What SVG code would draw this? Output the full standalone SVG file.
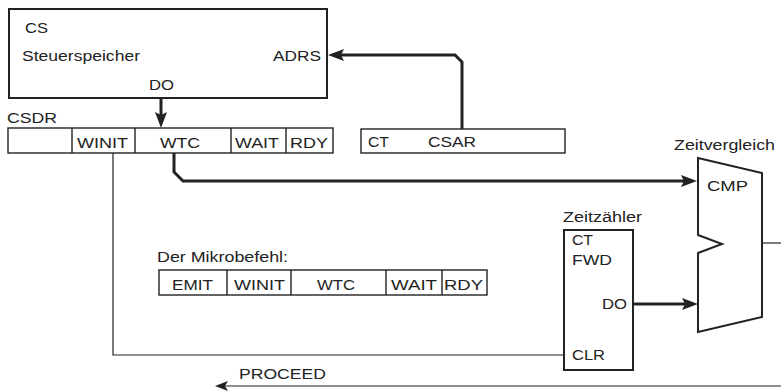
<svg xmlns="http://www.w3.org/2000/svg" width="781" height="391" viewBox="0 0 781 391">
<style>
text{font-family:"Liberation Sans",Arial,sans-serif;font-size:15.5px;fill:#222}
.box{fill:#fff;stroke:#222;stroke-width:2}
.reg{fill:#fff;stroke:#222;stroke-width:1.4}
.thick{fill:none;stroke:#222;stroke-width:3}
.thin{fill:none;stroke:#222;stroke-width:1.2}
</style>
<defs>
<marker id="ah" markerUnits="userSpaceOnUse" markerWidth="16" markerHeight="12" refX="6" refY="6" orient="auto" viewBox="0 0 16 12">
<path d="M0,0 L16,6 L0,12 L3,6 z" fill="#222"/>
</marker>
<marker id="ahs" markerUnits="userSpaceOnUse" markerWidth="13" markerHeight="10" refX="5" refY="5" orient="auto" viewBox="0 0 13 10">
<path d="M0,0 L13,5 L0,10 L3,5 z" fill="#222"/>
</marker>
</defs>

<g id="connectors">
<path class="thick" d="M161,98 V118" marker-end="url(#ah)"/>
<path class="thick" d="M462,129 V62 L455,55 H338" marker-end="url(#ah)"/>
<path class="thick" d="M174,153 V172 L183,181 H687" marker-end="url(#ah)"/>
<path class="thick" d="M633,304 H688" marker-end="url(#ah)"/>
<path class="thin" d="M113,153 V355 H564"/>
<path class="thin" d="M781,386 H223" marker-end="url(#ahs)"/>
<path class="thin" d="M762,243 H781"/>
</g>

<g id="cs">
<rect class="box" x="9" y="9" width="318" height="89"/>
<text x="25" y="33" textLength="23" lengthAdjust="spacingAndGlyphs">CS</text>
<text x="22" y="61" textLength="118" lengthAdjust="spacingAndGlyphs">Steuerspeicher</text>
<text x="273" y="61" textLength="48" lengthAdjust="spacingAndGlyphs">ADRS</text>
<text x="149" y="90" textLength="25" lengthAdjust="spacingAndGlyphs">DO</text>
</g>

<g id="csdr">
<text x="7" y="123" textLength="50" lengthAdjust="spacingAndGlyphs">CSDR</text>
<rect class="reg" x="8" y="128" width="325" height="25"/>
<path class="reg" d="M72,128 V153 M135,128 V153 M231,128 V153 M286,128 V153"/>
<text x="77" y="148" textLength="51" lengthAdjust="spacingAndGlyphs">WINIT</text>
<text x="160" y="148" textLength="40" lengthAdjust="spacingAndGlyphs">WTC</text>
<text x="235" y="148" textLength="44" lengthAdjust="spacingAndGlyphs">WAIT</text>
<text x="290" y="148" textLength="38" lengthAdjust="spacingAndGlyphs">RDY</text>
</g>

<g id="csar">
<rect class="reg" x="361" y="129" width="204" height="24"/>
<text x="368" y="147" textLength="21" lengthAdjust="spacingAndGlyphs">CT</text>
<text x="428" y="147" textLength="48" lengthAdjust="spacingAndGlyphs">CSAR</text>
</g>

<g id="zeitvergleich">
<text x="674" y="150" textLength="101" lengthAdjust="spacingAndGlyphs">Zeitvergleich</text>
<polygon class="box" points="698,158 762,173 762,317 698,332 698,253 722,244 698,235"/>
<text x="707" y="191" textLength="41" lengthAdjust="spacingAndGlyphs">CMP</text>
</g>

<g id="zeitzaehler">
<text x="563" y="222" textLength="79" lengthAdjust="spacingAndGlyphs">Zeitzähler</text>
<rect class="box" x="564" y="230" width="69" height="140"/>
<text x="572" y="245" textLength="21" lengthAdjust="spacingAndGlyphs">CT</text>
<text x="572" y="265" textLength="40" lengthAdjust="spacingAndGlyphs">FWD</text>
<text x="602" y="309" textLength="25" lengthAdjust="spacingAndGlyphs">DO</text>
<text x="572" y="360" textLength="33" lengthAdjust="spacingAndGlyphs">CLR</text>
</g>

<g id="mikrobefehl">
<text x="157" y="262" textLength="131" lengthAdjust="spacingAndGlyphs">Der Mikrobefehl:</text>
<rect class="reg" x="159" y="270" width="328" height="25"/>
<path class="reg" d="M227,270 V295 M291,270 V295 M386,270 V295 M442,270 V295"/>
<text x="172" y="290" textLength="41" lengthAdjust="spacingAndGlyphs">EMIT</text>
<text x="234" y="290" textLength="51" lengthAdjust="spacingAndGlyphs">WINIT</text>
<text x="317" y="290" textLength="38" lengthAdjust="spacingAndGlyphs">WTC</text>
<text x="391" y="290" textLength="46" lengthAdjust="spacingAndGlyphs">WAIT</text>
<text x="444" y="290" textLength="39" lengthAdjust="spacingAndGlyphs">RDY</text>
</g>

<g id="proceed">
<text x="239" y="379" textLength="87" lengthAdjust="spacingAndGlyphs">PROCEED</text>
</g>
</svg>
